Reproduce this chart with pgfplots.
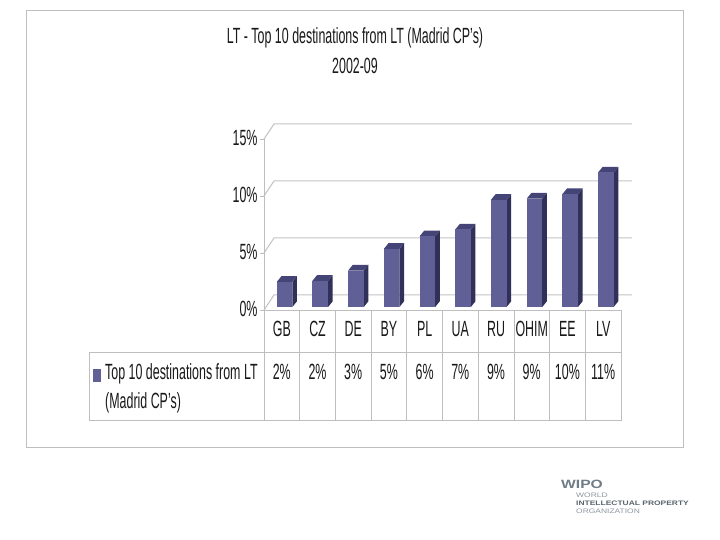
\documentclass[border=0pt]{standalone}
\usepackage{pgfplots}
\pgfplotsset{compat=1.18}
\usepackage{fontspec}
\setmainfont[FakeStretch=0.565]{Liberation Sans}
\newfontfamily\logofont[FakeStretch=1.3]{Liberation Sans}
\definecolor{barfront}{RGB}{96,96,150}
\definecolor{barside}{RGB}{48,48,88}
\definecolor{bartop}{RGB}{68,68,118}
\definecolor{frame}{RGB}{190,190,190}
\definecolor{gridc}{RGB}{196,196,196}
\definecolor{logoc}{RGB}{110,125,135}
\newcommand{\threedbar}[2]{%
  \pgfmathsetmacro{\xl}{#1+0.076-0.218}%
  \pgfmathsetmacro{\xr}{#1+0.076+0.218}%
  \pgfmathsetmacro{\xlb}{\xl+0.13}%
  \pgfmathsetmacro{\xrb}{\xr+0.13}%
  \pgfmathsetmacro{\yb}{0.263}%
  \pgfmathsetmacro{\yt}{0.263+#2}%
  \pgfmathsetmacro{\ybb}{\yb+0.5}%
  \pgfmathsetmacro{\ytb}{\yt+0.5}%
  \addplot[fill=barside,draw=none,no marks] coordinates {(\xr,\yb) (\xrb,\ybb) (\xrb,\ytb) (\xr,\yt)};
  \addplot[fill=bartop,draw=none,no marks] coordinates {(\xl,\yt) (\xr,\yt) (\xrb,\ytb) (\xlb,\ytb)};
  \addplot[fill=barfront,draw=none,no marks] coordinates {(\xl,\yb) (\xr,\yb) (\xr,\yt) (\xl,\yt)};
}
\begin{document}
\begin{tikzpicture}[x=1pt,y=1pt]
\useasboundingbox (0,0) rectangle (720,540);
\fill[white] (0,0) rectangle (720,540);
% outer frame: pixel y measured from the top, hence 540-y
\draw[frame,line width=0.8pt] (26,540-10) rectangle (683,540-447);
% back wall gridlines and wall edges
\foreach \yy in {310,253,196,139}{
  \draw[gridc,line width=1pt] (264,540-\yy) -- (274,540-\yy+15) -- (632,540-\yy+15);
}
% data table
\draw[frame,line width=0.8pt] (89,540-352) rectangle (264,540-420);
\draw[frame,line width=0.8pt] (264,540-352) -- (621,540-352) -- (621,540-420) -- (264,540-420);
\foreach \i in {0,...,10}{
  \draw[frame,line width=0.8pt] ({264+35.7*\i},540-310) -- ({264+35.7*\i},540-420);
}
\begin{axis}[
  at={(264pt,230pt)},anchor=south west,
  scale only axis,width=357pt,height=171pt,
  xmin=-0.5,xmax=9.5,ymin=0,ymax=15,
  axis lines=left,
  axis line style={frame,-},
  clip=false,
  xtick={0,...,9},
  xticklabels={GB,CZ,DE,BY,PL,UA,RU,OHIM,EE,LV},
  x tick style={draw=none},
  x tick label style={font=\fontsize{22}{22}\selectfont,text=black!90,anchor=center,yshift=-15pt},
  ytick={0,5,10,15},
  yticklabels={0\%,5\%,10\%,15\%},
  y tick style={frame,line width=0.8pt},
  major tick length=4pt,
  tick align=outside,
  y tick label style={font=\fontsize{22}{22}\selectfont,text=black!90,anchor=east,xshift=1pt,yshift=1pt},
  /pgf/number format/assume math mode=true,
]
\threedbar{0}{2.2}
\threedbar{1}{2.3}
\threedbar{2}{3.2}
\threedbar{3}{5.1}
\threedbar{4}{6.2}
\threedbar{5}{6.8}
\threedbar{6}{9.4}
\threedbar{7}{9.5}
\threedbar{8}{9.9}
\threedbar{9}{11.8}
\end{axis}
% data row
\foreach \i/\t in {0/2,1/2,2/3,3/5,4/6,5/7,6/9,7/9,8/10,9/11}{
  \node[text=black!90,font=\fontsize{22}{22}\selectfont,inner sep=0pt] at ({281.8+35.7*\i},540-372) {\t\%};
}
% legend cell
\fill[barfront] (93,540-369) rectangle (101,540-382);
\node[text=black!90,font=\fontsize{22}{22}\selectfont,inner sep=0pt,anchor=west] at (105,540-374) {Top 10 destinations from LT};
\node[text=black!90,font=\fontsize{22}{22}\selectfont,inner sep=0pt,anchor=west] at (105,540-403) {(Madrid CP's)};
% title
\node[text=black!90,font=\fontsize{22}{22}\selectfont,inner sep=0pt] at (355,540-38) {LT - Top 10 destinations from LT (Madrid CP's)};
\node[text=black!90,font=\fontsize{22}{22}\selectfont,inner sep=0pt] at (355,540-66) {2002-09};
% logo
\node[text=logoc,font=\logofont\bfseries\fontsize{12}{12}\selectfont,inner sep=0pt,anchor=west] at (561,540-484) {WIPO};
\node[text=logoc!80,font=\logofont\fontsize{6.5}{6.5}\selectfont,inner sep=0pt,anchor=west] at (576,540-495) {WORLD};
\node[text=logoc!80!black,font=\logofont\bfseries\fontsize{6.5}{6.5}\selectfont,inner sep=0pt,anchor=west] at (576,540-503) {INTELLECTUAL PROPERTY};
\node[text=logoc!80,font=\logofont\fontsize{6.5}{6.5}\selectfont,inner sep=0pt,anchor=west] at (576,540-511) {ORGANIZATION};
\end{tikzpicture}
\end{document}
